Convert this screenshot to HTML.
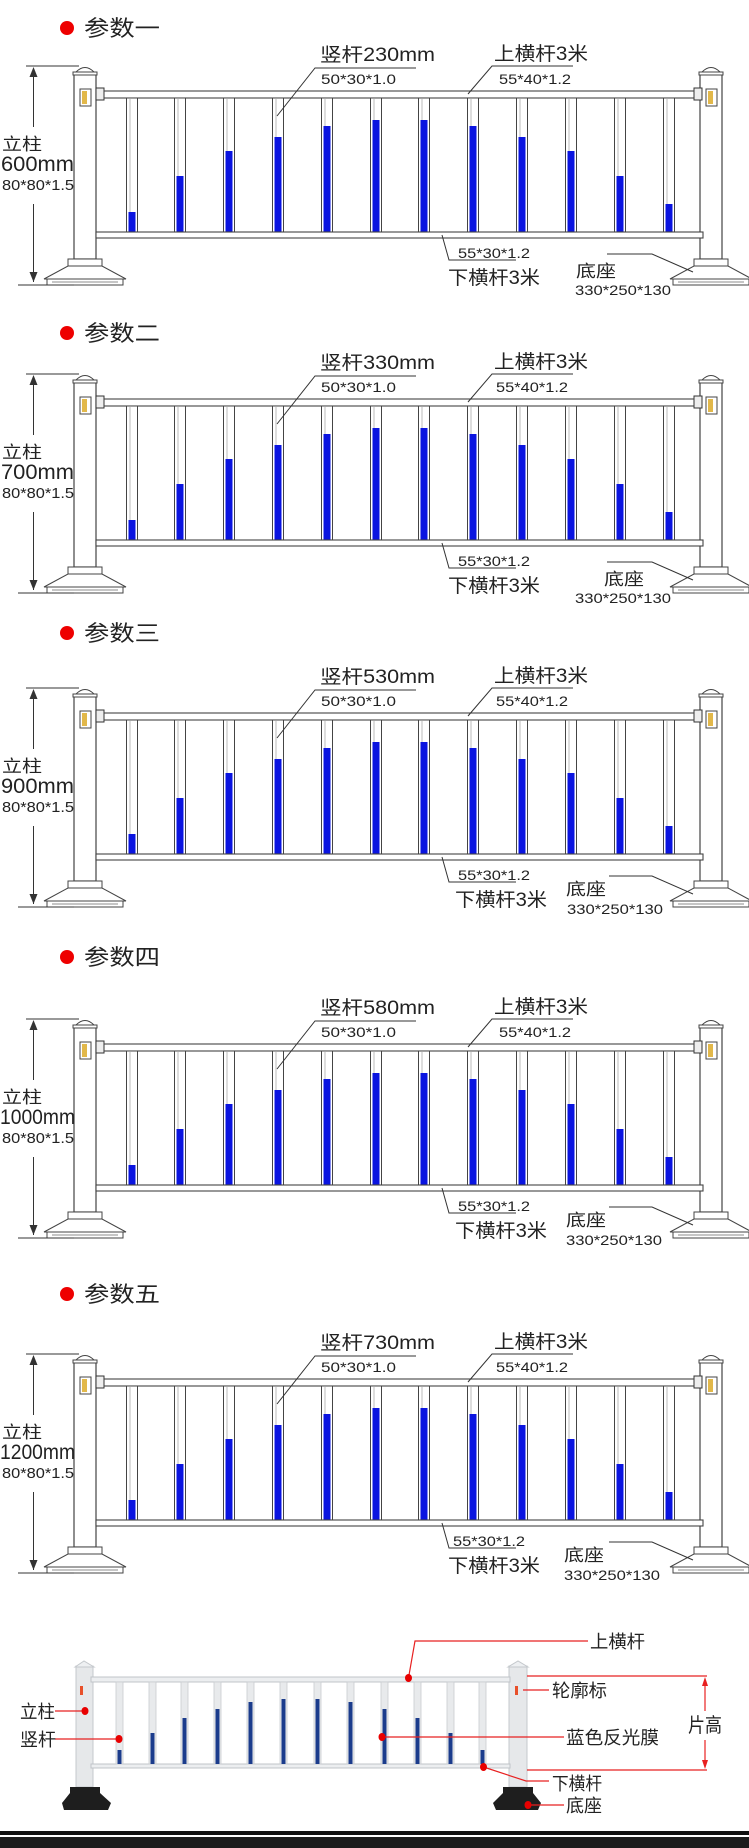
<!DOCTYPE html>
<html><head><meta charset="utf-8"><style>
html,body{margin:0;padding:0;background:#fff;}
svg{display:block;}
text{font-family:"Liberation Sans","Noto Sans CJK SC",sans-serif;fill:#222;}
</style></head><body>
<svg width="749" height="1848" viewBox="0 0 749 1848" xmlns="http://www.w3.org/2000/svg">
<defs>
<g id="post">
  <rect x="0" y="-17" width="22" height="185" fill="#fff" stroke="#444" stroke-width="1.2"/>
  <rect x="-1" y="-19" width="24" height="3" fill="#fff" stroke="#444" stroke-width="1"/>
  <path d="M2,-19 Q11,-28 20,-19 Z" fill="#fff" stroke="#444" stroke-width="1"/>
  <rect x="6" y="-2" width="11" height="17" fill="#fff" stroke="#444" stroke-width="1"/>
  <rect x="8" y="0" width="5" height="13" fill="#e2b84a"/>
  <rect x="-6" y="168" width="34" height="7" fill="#fff" stroke="#444" stroke-width="1"/>
  <path d="M-6,175 L28,175 L52,188 L-30,188 Z" fill="#fff" stroke="#444" stroke-width="1"/>
  <rect x="-27" y="188" width="76" height="6" fill="#fff" stroke="#444" stroke-width="1"/>
  <line x1="-22" y1="191" x2="44" y2="191" stroke="#666" stroke-width="0.8"/>
</g>
<g id="pk">
  <rect x="-5.5" y="7" width="11" height="134" fill="#fff" stroke="#444" stroke-width="1"/>
  <line x1="-2" y1="8" x2="-2" y2="140" stroke="#bbb" stroke-width="1"/>
</g>
<g id="fence">
  <use href="#post" x="74" y="0"/>
  <use href="#post" x="700" y="0"/>
  <rect x="96" y="-3" width="8" height="12" fill="#eee" stroke="#333" stroke-width="1"/>
  <rect x="694" y="-3" width="8" height="12" fill="#eee" stroke="#333" stroke-width="1"/>
  <rect x="104" y="0" width="590" height="7" fill="#fff" stroke="#444" stroke-width="1.1"/>
  <use href="#pk" x="132"/><use href="#pk" x="180"/><use href="#pk" x="229"/><use href="#pk" x="278"/>
  <use href="#pk" x="327"/><use href="#pk" x="376"/><use href="#pk" x="424"/><use href="#pk" x="473"/>
  <use href="#pk" x="522"/><use href="#pk" x="571"/><use href="#pk" x="620"/><use href="#pk" x="669"/>
  <g fill="#0a14e0">
    <rect x="128.5" y="121" width="7" height="20"/>
    <rect x="176.5" y="85" width="7" height="56"/>
    <rect x="225.5" y="60" width="7" height="81"/>
    <rect x="274.5" y="46" width="7" height="95"/>
    <rect x="323.5" y="35" width="7" height="106"/>
    <rect x="372.5" y="29" width="7" height="112"/>
    <rect x="420.5" y="29" width="7" height="112"/>
    <rect x="469.5" y="35" width="7" height="106"/>
    <rect x="518.5" y="46" width="7" height="95"/>
    <rect x="567.5" y="60" width="7" height="81"/>
    <rect x="616.5" y="85" width="7" height="56"/>
    <rect x="665.5" y="113" width="7" height="28"/>
  </g>
  <rect x="96" y="141" width="607" height="6" fill="#fff" stroke="#444" stroke-width="1.1"/>
  <line x1="26" y1="-25" x2="79" y2="-25" stroke="#333" stroke-width="1"/>
  <line x1="18" y1="194" x2="74" y2="194" stroke="#333" stroke-width="1"/>
  <line x1="33.5" y1="-22" x2="33.5" y2="36" stroke="#333" stroke-width="1"/>
  <line x1="33.5" y1="113" x2="33.5" y2="191" stroke="#333" stroke-width="1"/>
  <path d="M29.5,181 L33.5,191 L37.5,181 Z" fill="#333"/>
  <path d="M29.5,-14 L33.5,-24 L37.5,-14 Z" fill="#333"/>
  <polyline points="416,-23 315,-23 277,25" fill="none" stroke="#333" stroke-width="1"/>
  <polyline points="573,-25 492,-25 468,3" fill="none" stroke="#333" stroke-width="1"/>
  <polyline points="442,144 449,169 516,169" fill="none" stroke="#333" stroke-width="1"/>
</g>
</defs>

<circle cx="67" cy="28" r="7" fill="#e00"/>
<text x="84" y="36" font-size="22" textLength="76" lengthAdjust="spacingAndGlyphs">参数一</text>
<g transform="translate(0,91)">
  <use href="#fence"/>
  <polyline points="607,163 652,163 693,181" fill="none" stroke="#333" stroke-width="1"/>
  <text x="2" y="59" font-size="17" textLength="40" lengthAdjust="spacingAndGlyphs">立柱</text>
  <text x="1" y="80" font-size="21" textLength="73" lengthAdjust="spacingAndGlyphs">600mm</text>
  <text x="2" y="99" font-size="15" textLength="72" lengthAdjust="spacingAndGlyphs">80*80*1.5</text>
  <text x="320" y="-30" font-size="19" textLength="115" lengthAdjust="spacingAndGlyphs">竖杆230mm</text>
  <text x="321" y="-7" font-size="14" textLength="75" lengthAdjust="spacingAndGlyphs">50*30*1.0</text>
  <text x="494" y="-31" font-size="19" textLength="94" lengthAdjust="spacingAndGlyphs">上横杆3米</text>
  <text x="499" y="-7" font-size="14" textLength="72" lengthAdjust="spacingAndGlyphs">55*40*1.2</text>
  <text x="458" y="167" font-size="14" textLength="72" lengthAdjust="spacingAndGlyphs">55*30*1.2</text>
  <text x="448" y="193" font-size="19" textLength="92" lengthAdjust="spacingAndGlyphs">下横杆3米</text>
  <text x="576" y="186" font-size="17" textLength="40" lengthAdjust="spacingAndGlyphs">底座</text>
  <text x="575" y="204" font-size="14" textLength="96" lengthAdjust="spacingAndGlyphs">330*250*130</text>
</g>
<circle cx="67" cy="333" r="7" fill="#e00"/>
<text x="84" y="341" font-size="22" textLength="76" lengthAdjust="spacingAndGlyphs">参数二</text>
<g transform="translate(0,399)">
  <use href="#fence"/>
  <polyline points="607,163 652,163 693,181" fill="none" stroke="#333" stroke-width="1"/>
  <text x="2" y="59" font-size="17" textLength="40" lengthAdjust="spacingAndGlyphs">立柱</text>
  <text x="1" y="80" font-size="21" textLength="73" lengthAdjust="spacingAndGlyphs">700mm</text>
  <text x="2" y="99" font-size="15" textLength="72" lengthAdjust="spacingAndGlyphs">80*80*1.5</text>
  <text x="320" y="-30" font-size="19" textLength="115" lengthAdjust="spacingAndGlyphs">竖杆330mm</text>
  <text x="321" y="-7" font-size="14" textLength="75" lengthAdjust="spacingAndGlyphs">50*30*1.0</text>
  <text x="494" y="-31" font-size="19" textLength="94" lengthAdjust="spacingAndGlyphs">上横杆3米</text>
  <text x="496" y="-7" font-size="14" textLength="72" lengthAdjust="spacingAndGlyphs">55*40*1.2</text>
  <text x="458" y="167" font-size="14" textLength="72" lengthAdjust="spacingAndGlyphs">55*30*1.2</text>
  <text x="448" y="193" font-size="19" textLength="92" lengthAdjust="spacingAndGlyphs">下横杆3米</text>
  <text x="604" y="186" font-size="17" textLength="40" lengthAdjust="spacingAndGlyphs">底座</text>
  <text x="575" y="204" font-size="14" textLength="96" lengthAdjust="spacingAndGlyphs">330*250*130</text>
</g>
<circle cx="67" cy="633" r="7" fill="#e00"/>
<text x="84" y="641" font-size="22" textLength="76" lengthAdjust="spacingAndGlyphs">参数三</text>
<g transform="translate(0,713)">
  <use href="#fence"/>
  <polyline points="609,163 652,163 693,181" fill="none" stroke="#333" stroke-width="1"/>
  <text x="2" y="59" font-size="17" textLength="40" lengthAdjust="spacingAndGlyphs">立柱</text>
  <text x="1" y="80" font-size="21" textLength="73" lengthAdjust="spacingAndGlyphs">900mm</text>
  <text x="2" y="99" font-size="15" textLength="72" lengthAdjust="spacingAndGlyphs">80*80*1.5</text>
  <text x="320" y="-30" font-size="19" textLength="115" lengthAdjust="spacingAndGlyphs">竖杆530mm</text>
  <text x="321" y="-7" font-size="14" textLength="75" lengthAdjust="spacingAndGlyphs">50*30*1.0</text>
  <text x="494" y="-31" font-size="19" textLength="94" lengthAdjust="spacingAndGlyphs">上横杆3米</text>
  <text x="496" y="-7" font-size="14" textLength="72" lengthAdjust="spacingAndGlyphs">55*40*1.2</text>
  <text x="458" y="167" font-size="14" textLength="72" lengthAdjust="spacingAndGlyphs">55*30*1.2</text>
  <text x="455" y="193" font-size="19" textLength="92" lengthAdjust="spacingAndGlyphs">下横杆3米</text>
  <text x="566" y="182" font-size="17" textLength="40" lengthAdjust="spacingAndGlyphs">底座</text>
  <text x="567" y="201" font-size="14" textLength="96" lengthAdjust="spacingAndGlyphs">330*250*130</text>
</g>
<circle cx="67" cy="957" r="7" fill="#e00"/>
<text x="84" y="965" font-size="22" textLength="76" lengthAdjust="spacingAndGlyphs">参数四</text>
<g transform="translate(0,1044)">
  <use href="#fence"/>
  <polyline points="609,163 652,163 693,181" fill="none" stroke="#333" stroke-width="1"/>
  <text x="2" y="59" font-size="17" textLength="40" lengthAdjust="spacingAndGlyphs">立柱</text>
  <text x="0" y="80" font-size="21" textLength="75" lengthAdjust="spacingAndGlyphs">1000mm</text>
  <text x="2" y="99" font-size="15" textLength="72" lengthAdjust="spacingAndGlyphs">80*80*1.5</text>
  <text x="320" y="-30" font-size="19" textLength="115" lengthAdjust="spacingAndGlyphs">竖杆580mm</text>
  <text x="321" y="-7" font-size="14" textLength="75" lengthAdjust="spacingAndGlyphs">50*30*1.0</text>
  <text x="494" y="-31" font-size="19" textLength="94" lengthAdjust="spacingAndGlyphs">上横杆3米</text>
  <text x="499" y="-7" font-size="14" textLength="72" lengthAdjust="spacingAndGlyphs">55*40*1.2</text>
  <text x="458" y="167" font-size="14" textLength="72" lengthAdjust="spacingAndGlyphs">55*30*1.2</text>
  <text x="455" y="193" font-size="19" textLength="92" lengthAdjust="spacingAndGlyphs">下横杆3米</text>
  <text x="566" y="182" font-size="17" textLength="40" lengthAdjust="spacingAndGlyphs">底座</text>
  <text x="566" y="201" font-size="14" textLength="96" lengthAdjust="spacingAndGlyphs">330*250*130</text>
</g>
<circle cx="67" cy="1294" r="7" fill="#e00"/>
<text x="84" y="1302" font-size="22" textLength="76" lengthAdjust="spacingAndGlyphs">参数五</text>
<g transform="translate(0,1379)">
  <use href="#fence"/>
  <polyline points="609,163 652,163 693,181" fill="none" stroke="#333" stroke-width="1"/>
  <text x="2" y="59" font-size="17" textLength="40" lengthAdjust="spacingAndGlyphs">立柱</text>
  <text x="0" y="80" font-size="21" textLength="75" lengthAdjust="spacingAndGlyphs">1200mm</text>
  <text x="2" y="99" font-size="15" textLength="72" lengthAdjust="spacingAndGlyphs">80*80*1.5</text>
  <text x="320" y="-30" font-size="19" textLength="115" lengthAdjust="spacingAndGlyphs">竖杆730mm</text>
  <text x="321" y="-7" font-size="14" textLength="75" lengthAdjust="spacingAndGlyphs">50*30*1.0</text>
  <text x="494" y="-31" font-size="19" textLength="94" lengthAdjust="spacingAndGlyphs">上横杆3米</text>
  <text x="496" y="-7" font-size="14" textLength="72" lengthAdjust="spacingAndGlyphs">55*40*1.2</text>
  <text x="453" y="167" font-size="14" textLength="72" lengthAdjust="spacingAndGlyphs">55*30*1.2</text>
  <text x="448" y="193" font-size="19" textLength="92" lengthAdjust="spacingAndGlyphs">下横杆3米</text>
  <text x="564" y="182" font-size="17" textLength="40" lengthAdjust="spacingAndGlyphs">底座</text>
  <text x="564" y="201" font-size="14" textLength="96" lengthAdjust="spacingAndGlyphs">330*250*130</text>
</g>

<g>
  <rect x="76" y="1666" width="17" height="121" fill="#e6e8ea" stroke="#c4c8cc" stroke-width="1"/>
  <path d="M75,1667 L84,1661 L94,1667 Z" fill="#eef0f2" stroke="#c4c8cc"/>
  <rect x="509" y="1666" width="18" height="121" fill="#e6e8ea" stroke="#c4c8cc" stroke-width="1"/>
  <path d="M508,1667 L518,1661 L528,1667 Z" fill="#eef0f2" stroke="#c4c8cc"/>
  <rect x="80" y="1686" width="3" height="9" fill="#e8502a"/>
  <rect x="515" y="1686" width="3" height="9" fill="#e8502a"/>
  <rect x="91" y="1677" width="419" height="5" fill="#eceef0" stroke="#c0c4c8" stroke-width="1"/>
  <rect x="91" y="1764" width="419" height="4" fill="#eceef0" stroke="#c0c4c8" stroke-width="1"/>
  <g fill="#e8eaec" stroke="#c8ccd0" stroke-width="0.8">
    <rect x="116" y="1682" width="7" height="82"/><rect x="149" y="1682" width="7" height="82"/>
    <rect x="181" y="1682" width="7" height="82"/><rect x="214" y="1682" width="7" height="82"/>
    <rect x="247" y="1682" width="7" height="82"/><rect x="280" y="1682" width="7" height="82"/>
    <rect x="314" y="1682" width="7" height="82"/><rect x="347" y="1682" width="7" height="82"/>
    <rect x="381" y="1682" width="7" height="82"/><rect x="414" y="1682" width="7" height="82"/>
    <rect x="447" y="1682" width="7" height="82"/><rect x="479" y="1682" width="7" height="82"/>
  </g>
  <g fill="#1b3c8c">
    <rect x="117.5" y="1750" width="4" height="14"/><rect x="150.5" y="1733" width="4" height="31"/>
    <rect x="182.5" y="1718" width="4" height="46"/><rect x="215.5" y="1709" width="4" height="55"/>
    <rect x="248.5" y="1702" width="4" height="62"/><rect x="281.5" y="1699" width="4" height="65"/>
    <rect x="315.5" y="1699" width="4" height="65"/><rect x="348.5" y="1702" width="4" height="62"/>
    <rect x="382.5" y="1709" width="4" height="55"/><rect x="415.5" y="1718" width="4" height="46"/>
    <rect x="448.5" y="1733" width="4" height="31"/><rect x="480.5" y="1750" width="4" height="14"/>
  </g>
  <path d="M70,1787 L100,1787 L100,1793 L111,1803 L108,1810 L64,1810 L62,1803 L70,1793 Z" fill="#1e1e1e"/>
  <path d="M503,1787 L533,1787 L533,1793 L541,1803 L538,1810 L496,1810 L493,1803 L503,1793 Z" fill="#1e1e1e"/>
  <g stroke="#e82020" stroke-width="1.2" fill="none">
    <polyline points="408.5,1678 415,1641 588,1641"/>
    <line x1="523" y1="1690" x2="549" y2="1690"/>
    <line x1="527" y1="1676" x2="707" y2="1676"/>
    <line x1="527" y1="1770" x2="707" y2="1770"/>
    <line x1="705" y1="1680" x2="705" y2="1711"/>
    <line x1="705" y1="1740" x2="705" y2="1766"/>
    <line x1="55" y1="1711" x2="85" y2="1711"/>
    <line x1="55" y1="1739" x2="119" y2="1739"/>
    <line x1="382" y1="1737" x2="564" y2="1737"/>
    <polyline points="483.5,1767 526,1781 549,1781"/>
    <line x1="528" y1="1805" x2="564" y2="1805"/>
  </g>
  <path d="M702,1686 L705,1677 L708,1686 Z" fill="#e82020"/>
  <path d="M702,1760 L705,1769 L708,1760 Z" fill="#e82020"/>
  <g fill="#e80000">
    <ellipse cx="408.5" cy="1678" rx="3.5" ry="4"/>
    <ellipse cx="85" cy="1711" rx="3.5" ry="4"/>
    <ellipse cx="119" cy="1739" rx="3.5" ry="4"/>
    <ellipse cx="382" cy="1737" rx="3.5" ry="4"/>
    <ellipse cx="483.5" cy="1767" rx="3.5" ry="4"/>
    <ellipse cx="528" cy="1805" rx="3.5" ry="4"/>
  </g>
  <g font-size="18">
    <text x="590" y="1648" textLength="55" lengthAdjust="spacingAndGlyphs">上横杆</text>
    <text x="552" y="1697" textLength="55" lengthAdjust="spacingAndGlyphs">轮廓标</text>
    <text x="688" y="1732" font-size="20" textLength="34" lengthAdjust="spacingAndGlyphs">片高</text>
    <text x="566" y="1744" textLength="93" lengthAdjust="spacingAndGlyphs">蓝色反光膜</text>
    <text x="552" y="1790" textLength="50" lengthAdjust="spacingAndGlyphs">下横杆</text>
    <text x="566" y="1812" textLength="36" lengthAdjust="spacingAndGlyphs">底座</text>
    <text x="20" y="1718" textLength="35" lengthAdjust="spacingAndGlyphs">立柱</text>
    <text x="20" y="1746" textLength="36" lengthAdjust="spacingAndGlyphs">竖杆</text>
  </g>
  <rect x="0" y="1831" width="749" height="4" fill="#111"/>
  <rect x="0" y="1837" width="749" height="11" fill="#1c1c1c"/>
</g>
</svg>
</body></html>
